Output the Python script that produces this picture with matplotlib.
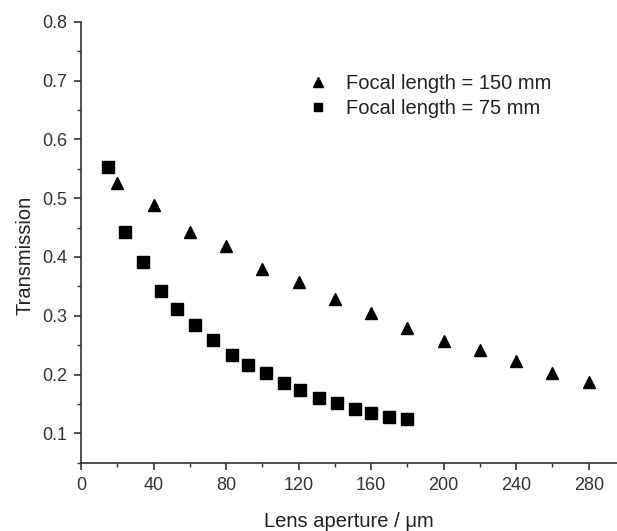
import matplotlib
matplotlib.use("Agg")
import matplotlib.pyplot as plt
from matplotlib.ticker import MultipleLocator

plt.rcParams['font.family'] = ['Liberation Sans', 'DejaVu Sans']

# Focal length = 150 mm
aperture_150 = [20, 40, 60, 80, 100, 120, 140, 160, 180, 200, 220, 240, 260, 280]
trans_150 = [0.526, 0.489, 0.442, 0.418, 0.380, 0.358, 0.329, 0.305, 0.279,
             0.257, 0.241, 0.223, 0.203, 0.188]

# Focal length = 75 mm
aperture_75 = [15, 24, 34, 44, 53, 63, 73, 83, 92, 102, 112, 121, 131, 141,
               151, 160, 170, 180]
trans_75 = [0.553, 0.442, 0.391, 0.342, 0.311, 0.284, 0.258, 0.233, 0.216,
            0.202, 0.185, 0.173, 0.160, 0.151, 0.142, 0.134, 0.128, 0.124]

x_ticks = [0, 40, 80, 120, 160, 200, 240, 280]
y_ticks = [0.1, 0.2, 0.3, 0.4, 0.5, 0.6, 0.7, 0.8]

fig = plt.figure(figsize=(6.17, 5.31), dpi=100)
ax = fig.add_axes([81 / 617, 68.3 / 531, 1 - 81 / 617, (462.7 - 21.7) / 531])

ax.plot(aperture_150, trans_150, linestyle='none', marker='^', color='black',
        markersize=8.5, label='Focal length = 150 mm')
ax.plot(aperture_75, trans_75, linestyle='none', marker='s', color='black',
        markersize=8, label='Focal length = 75 mm')

ax.set_xlim(0, 295.6)
ax.set_ylim(0.05, 0.8)
ax.set_xticks(x_ticks)
ax.set_yticks(y_ticks)
ax.set_yticklabels([f"{v:.1f}" for v in y_ticks])
ax.xaxis.set_minor_locator(MultipleLocator(20))
ax.yaxis.set_minor_locator(MultipleLocator(0.05))

for side in ('top', 'right'):
    ax.spines[side].set_visible(False)
for side in ('left', 'bottom'):
    ax.spines[side].set_color('#333333')
    ax.spines[side].set_linewidth(1.2)

ax.tick_params(which='major', direction='out', length=5, width=1.2,
               colors='#333333', labelsize=13, labelcolor='#333333', pad=5)
ax.tick_params(which='minor', direction='out', length=3, width=1.0,
               colors='#333333')

ax.set_xlabel('Lens aperture / μm', fontsize=14.5, color='#222222', labelpad=13)
ax.set_ylabel('Transmission', fontsize=14.5, color='#222222')
ax.yaxis.set_label_coords(-0.086, 0.471)

leg = ax.legend(loc='upper left', bbox_to_anchor=(0.404, 0.905), frameon=False,
                fontsize=14.5, handletextpad=0.9, labelspacing=0.32,
                handlelength=1.0, markerscale=0.8, borderpad=0)
for t in leg.get_texts():
    t.set_color('#222222')

fig.savefig('out.png', dpi=100)
